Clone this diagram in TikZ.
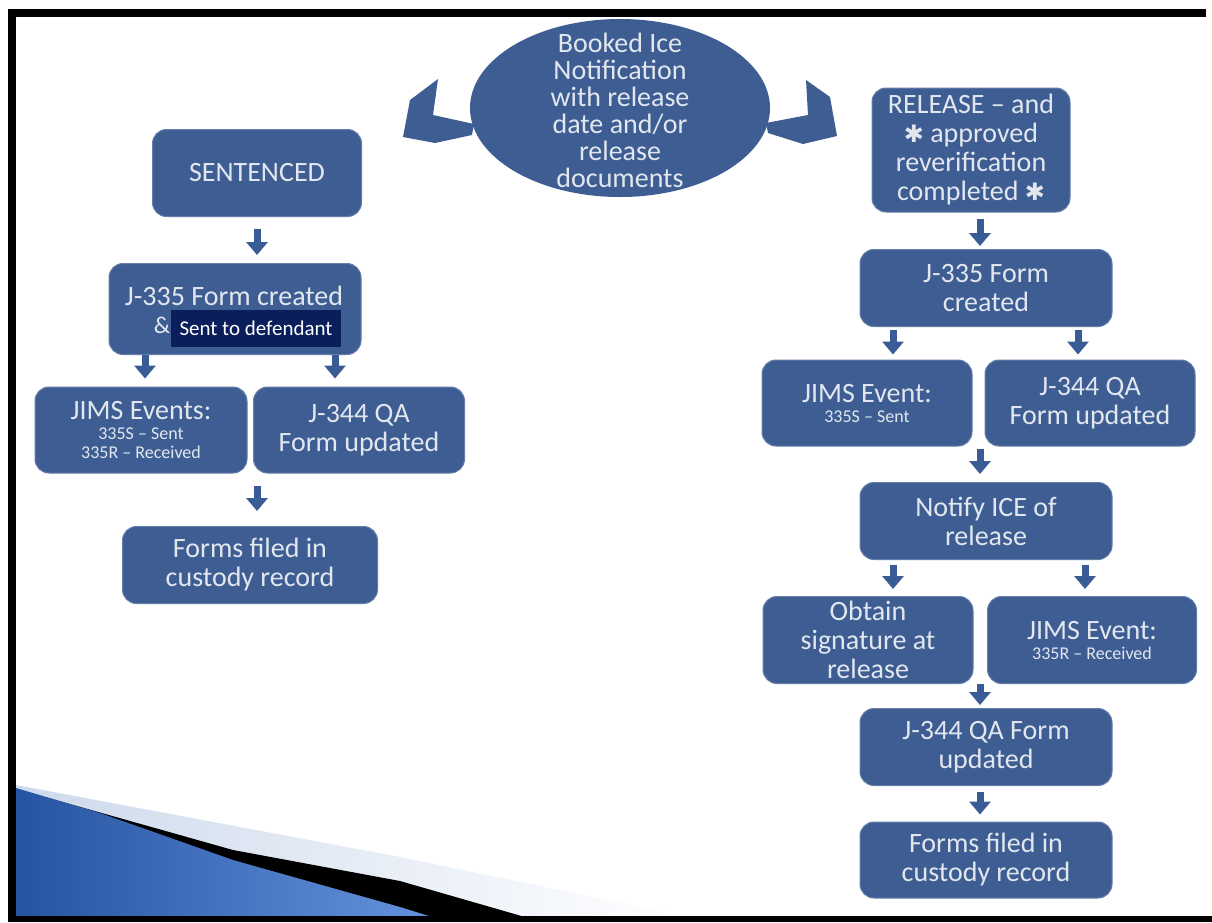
\documentclass[tikz,border=0pt]{standalone}
\usepackage{fontspec}
\setmainfont{Carlito}
\newfontfamily\symfont{DejaVu Sans}
\usetikzlibrary{arrows.meta,shapes.geometric}

\definecolor{boxblue}{RGB}{62,94,147}
\definecolor{arrowblue}{RGB}{58,92,150}
\definecolor{boxtext}{RGB}{226,231,239}
\definecolor{navy}{RGB}{10,30,92}
\definecolor{swooshlight}{RGB}{205,217,236}
\definecolor{swooshdark}{RGB}{38,84,162}
\definecolor{swooshmid}{RGB}{100,146,220}

\tikzset{
  stepbox/.style={draw=boxblue!80!white, line width=1pt, fill=boxblue,
    rounded corners=14pt, text=boxtext, align=center, inner sep=0pt,
    font=\fontsize{28}{29}\selectfont},
  dnarrow/.style={draw=arrowblue, line width=7pt,
    -{Triangle[width=21pt,length=13pt]}},
}
\newcommand{\smalltxt}{\fontsize{18}{19}\selectfont}

\begin{document}
\begin{tikzpicture}[x=1pt,y=-1pt]
\useasboundingbox (0,0) rectangle (1212,922);
\fill[white] (0,0) rectangle (1212,922);

% swoosh in the lower left corner
\shade[left color=swooshlight, right color=white] (16,785) -- (400,857) -- (690,917) -- (16,917) -- cycle;
\fill[black] (45,797) -- (233,850) -- (400,881) -- (525,917) -- (16,917) -- cycle;
\shade[left color=swooshdark, right color=swooshmid] (16,788) -- (100,813) -- (233,860) -- (400,907) -- (432,917) -- (16,917) -- cycle;

% top: notification and the two chevrons
\node[ellipse, fill=boxblue, minimum width=300pt, minimum height=178pt, inner sep=0pt] (notif) at (620,108) {};
\node[text=boxtext, align=center, inner sep=0pt, font=\fontsize{28}{27}\selectfont] (notiftxt) at ([yshift=-2pt]notif.center)
  {Booked Ice\\Notification\\with release\\date and/or\\release\\documents};
\fill[boxblue] (410,100) -- (438,79) -- (433,115) -- (474,124) -- (472,135) -- (435,143) -- (403,137) -- cycle;
\fill[boxblue] (830,97) -- (806,80) -- (808,115) -- (766,123) -- (768,133) -- (803,144) -- (837,136) -- cycle;

% left branch
\node[stepbox, minimum width=209pt, minimum height=87pt] (sent) at (257,173) {SENTENCED};
\node[stepbox, minimum width=252pt, minimum height=91pt] (formL) at (235,309) {};
\node[text=boxtext, font=\fontsize{28}{29}\selectfont] (formLtxt) at (234,296) {J-335 Form created};
\node[text=boxtext, font=\fontsize{24}{26}\selectfont] (amp) at (162,325) {\&};
\node[fill=navy, text=white, minimum width=170pt, minimum height=37pt, inner sep=0pt,
  font=\fontsize{21}{23}\selectfont] (defend) at (256,328) {Sent to defendant};
\node[stepbox, minimum width=212pt, minimum height=86pt] (jimsL) at (141,430)
  {JIMS Events:\\[-9pt]{\smalltxt 335S – Sent}\\[-10pt]{\smalltxt 335R – Received}};
\node[stepbox, minimum width=211pt, minimum height=86pt] (qaL) at (359,430) {J-344 QA\\Form updated};
\node[stepbox, minimum width=255pt, minimum height=77pt] (fileL) at (250,565) {Forms filed in\\custody record};

\draw[dnarrow, shorten <=12pt, shorten >=8pt] (sent.south) -- (sent.south |- formL.north);
\draw[dnarrow, shorten <=0pt, shorten >=8pt] ([xshift=4pt]jimsL.north |- formL.south) -- ([xshift=4pt]jimsL.north);
\draw[dnarrow, shorten <=0pt, shorten >=8pt] ([xshift=-24pt]qaL.north |- formL.south) -- ([xshift=-24pt]qaL.north);
\draw[dnarrow, shorten <=12pt, shorten >=15pt] ([xshift=7pt]fileL.north |- qaL.south) -- ([xshift=7pt]fileL.north);

% right branch
\node[stepbox, minimum width=198pt, minimum height=124pt] (rel) at (971,150)
  {RELEASE – and\\{\symfont\fontsize{24}{24}\selectfont ✱} approved\\reverification\\completed {\symfont\fontsize{24}{24}\selectfont ✱}};
\node[stepbox, minimum width=252pt, minimum height=77pt] (formR) at (986,288) {J-335 Form\\created};
\node[stepbox, minimum width=210pt, minimum height=86pt] (jimsR) at (867,403)
  {JIMS Event:\\[-9pt]{\smalltxt 335S – Sent}};
\node[stepbox, minimum width=210pt, minimum height=86pt] (qaR) at (1090,403) {J-344 QA\\Form updated};
\node[stepbox, minimum width=252pt, minimum height=77pt] (notify) at (986,521) {Notify ICE of\\release};
\node[stepbox, minimum width=210pt, minimum height=87pt] (obtain) at (868,640) {Obtain\\signature at\\release};
\node[stepbox, minimum width=209pt, minimum height=87pt] (jimsR2) at (1092,640)
  {JIMS Event:\\[-9pt]{\smalltxt 335R – Received}};
\node[stepbox, minimum width=252pt, minimum height=77pt] (qaR2) at (986,747) {J-344 QA Form\\updated};
\node[stepbox, minimum width=252pt, minimum height=76pt] (fileR) at (986,860) {Forms filed in\\custody record};

\draw[dnarrow, shorten <=6pt, shorten >=3pt] ([xshift=-6pt]formR.north |- rel.south) -- ([xshift=-6pt]formR.north);
\draw[dnarrow, shorten <=3pt, shorten >=5pt] ([xshift=26pt]jimsR.north |- formR.south) -- ([xshift=26pt]jimsR.north);
\draw[dnarrow, shorten <=3pt, shorten >=5pt] ([xshift=-12pt]qaR.north |- formR.south) -- ([xshift=-12pt]qaR.north);
\draw[dnarrow, shorten <=2pt, shorten >=8pt] ([xshift=-6pt]notify.north |- qaR.south) -- ([xshift=-6pt]notify.north);
\draw[dnarrow, shorten <=5pt, shorten >=7pt] ([xshift=25pt]obtain.north |- notify.south) -- ([xshift=25pt]obtain.north);
\draw[dnarrow, shorten <=5pt, shorten >=7pt] ([xshift=-7pt]jimsR2.north |- notify.south) -- ([xshift=-7pt]jimsR2.north);
\draw[dnarrow, shorten <=0pt, shorten >=3pt] ([xshift=-6pt]qaR2.north |- obtain.south) -- ([xshift=-6pt]qaR2.north);
\draw[dnarrow, shorten <=6pt, shorten >=7pt] ([xshift=-6pt]fileR.north |- qaR2.south) -- ([xshift=-6pt]fileR.north);

% frame
\fill[black] (8,9) rectangle (1206,17);
\fill[black] (8,9) rectangle (16,922);
\fill[black] (8,916) rectangle (1212,922);
\end{tikzpicture}
\end{document}
